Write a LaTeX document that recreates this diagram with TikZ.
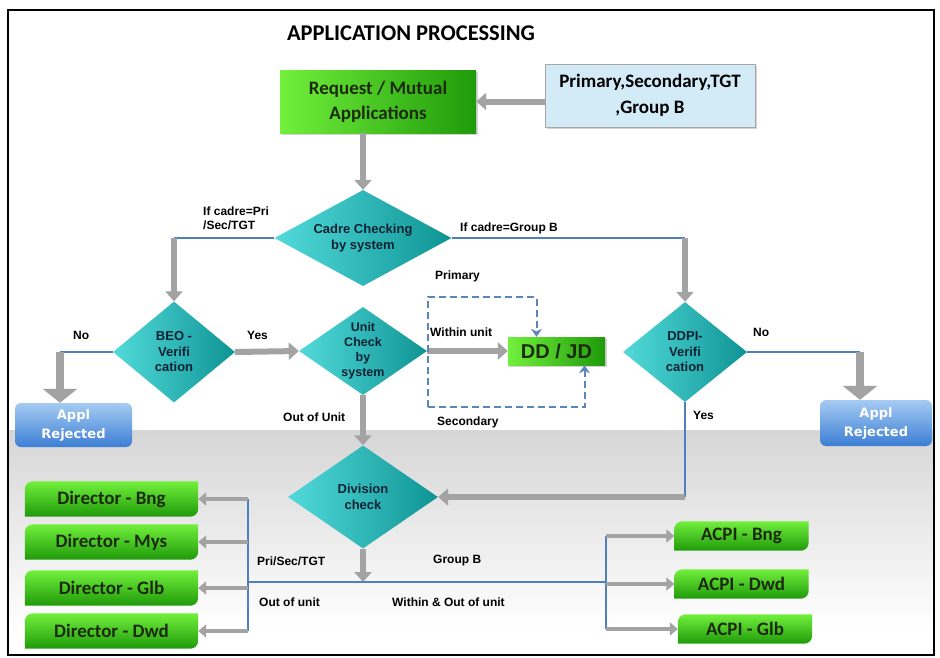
\documentclass[tikz,border=0pt]{standalone}
\usepackage{fontspec}
\setmainfont{Liberation Sans}
\newfontfamily\calfont{Carlito}
\newfontfamily\verfont{DejaVu Sans}
\usetikzlibrary{shapes.geometric,arrows.meta,shadows,backgrounds}
\definecolor{boxgreenA}{HTML}{72F03C}
\definecolor{boxgreenB}{HTML}{1F9A0A}
\definecolor{boxtext}{HTML}{1C2B0E}
\definecolor{diamA}{HTML}{52DADA}
\definecolor{diamB}{HTML}{0F9494}
\definecolor{diamtext}{HTML}{0E2233}
\definecolor{catblue}{HTML}{D2EBF7}
\definecolor{rejA}{HTML}{A5CBF2}
\definecolor{rejB}{HTML}{3C7ED4}
\definecolor{lineblue}{HTML}{4F7FBE}
\definecolor{dashblue}{HTML}{5B86BA}
\definecolor{arrowgray}{HTML}{A3A3A3}
\definecolor{bandgray}{HTML}{D6D6D6}
\tikzset{grayarrow/.style={draw=arrowgray, line width=6pt, -{Triangle[length=10pt,width=17pt]}},
    bigarrow/.style={draw=arrowgray, line width=8pt, -{Triangle[length=14pt,width=34pt]}},
    smallarrow/.style={draw=arrowgray, line width=4pt, -{Triangle[length=8pt,width=13pt]}},
    blueline/.style={draw=lineblue, line width=2pt},
    dashline/.style={draw=dashblue, line width=2pt, dash pattern=on 7pt off 4pt,
        -{Stealth[length=8pt,width=11pt]}},
    decision/.style={diamond, left color=diamA, right color=diamB, inner sep=0pt, align=center,
        text=diamtext, font=\bfseries\fontsize{13}{15.5}\selectfont},
    greenbox/.style={rectangle, left color=boxgreenA, right color=boxgreenB, align=center,
        text=boxtext, drop shadow={opacity=0.35, shadow xshift=2pt, shadow yshift=-2pt}},
    dirbox/.style={rectangle, minimum width=173pt, minimum height=35pt, text=boxtext,
        font=\calfont\bfseries\fontsize{19}{22}\selectfont},
    acpibox/.style={rectangle, minimum width=134pt, minimum height=29pt, text=boxtext,
        font=\calfont\bfseries\fontsize{19}{22}\selectfont},
    rejbox/.style={rectangle, rounded corners=6pt, top color=rejA, bottom color=rejB, align=center,
        text=white, font=\verfont\bfseries\fontsize{13}{19}\selectfont},
    lbl/.style={inner sep=0pt, font=\bfseries\fontsize{12}{14}\selectfont}}

\begin{document}
\begin{tikzpicture}[x=1pt,y=-1pt]
    \useasboundingbox (0,0) rectangle (940,657);
    \node[font=\calfont\bfseries\fontsize{22.5}{24}\selectfont] (title) at (411,33) {APPLICATION PROCESSING};
    % top boxes
    \node[greenbox, minimum width=196pt, minimum height=63pt, font=\calfont\bfseries\fontsize{19}{25}\selectfont]
        (req) at (378,101.5) {Request / Mutual\\Applications};
    \node[rectangle, fill=catblue, draw=gray!70, line width=1pt, minimum width=210pt, minimum height=63pt,
        align=center, drop shadow={opacity=0.35, shadow xshift=2pt, shadow yshift=-2pt},
        font=\calfont\bfseries\fontsize{19}{26}\selectfont] (cat) at (650,95.5) {Primary,Secondary,TGT\\,Group B};
    \draw[grayarrow] (req.east -| cat.west) -- (req.east);
    % decisions
    \node[decision, aspect=1.84, minimum width=177pt, minimum height=96pt] (cadre) at (363,238) {Cadre Checking\\by system};
    \node[decision, aspect=1.2, minimum width=122pt, minimum height=101pt] (beo) at (174,352) {BEO -\\Verifi\\cation};
    \node[decision, aspect=1.45, minimum width=128pt, minimum height=88pt,
        font=\bfseries\fontsize{12.5}{15}\selectfont] (unitchk) at (363,351) {Unit\\Check\\by\\system};
    \node[decision, aspect=1.24, minimum width=124pt, minimum height=100pt] (ddpi) at (685,352) {DDPI-\\Verifi\\cation};
    \node[decision, aspect=1.46, minimum width=150pt, minimum height=103pt] (divchk) at (363,497) {Division\\check};
    \node[greenbox, minimum width=97pt, minimum height=28pt, font=\bfseries\fontsize{20}{22}\selectfont]
        (ddjd) at (556.5,351) {DD / JD};
    \node[rejbox, minimum width=117pt, minimum height=44pt] (rejL) at (73.5,425) {Appl\\Rejected};
    \node[rejbox, minimum width=112pt, minimum height=46pt] (rejR) at (876,423) {Appl\\Rejected};
    % labels
    \node[lbl, anchor=north west, align=left] (ifpri) at (203,207) {If cadre=Pri\\/Sec/TGT};
    \node[lbl, anchor=west] (ifgrpb) at (460,228) {If cadre=Group B};
    \node[lbl, anchor=west] (lblprim) at (435,276) {Primary};
    \node[lbl, anchor=west] (lblwithin) at (430,332) {Within unit};
    \node[lbl, anchor=west] (lblsec) at (437,422) {Secondary};
    \node[lbl, anchor=west] (lblnoL) at (73,335) {No};
    \node[lbl, anchor=west] (lblyesL) at (247,335) {Yes};
    \node[lbl, anchor=west] (lblout) at (283,417) {Out of Unit};
    \node[lbl, anchor=west] (lblnoR) at (753,332) {No};
    \node[lbl, anchor=west] (lblyesR) at (693,415) {Yes};
    \node[lbl, anchor=west] (lblpst) at (257,561) {Pri/Sec/TGT};
    \node[lbl, anchor=west] (lbloutu) at (259,602) {Out of unit};
    \node[lbl, anchor=west] (lblgb) at (433,561) {Group B};
    \node[lbl, anchor=west] (lblwo) at (392,602) {Within \& Out of unit};
    % directors and acpi
    \node[dirbox] (dirbng) at (111.5,499) {Director - Bng};
    \node[dirbox] (dirmys) at (111.5,542) {Director - Mys};
    \node[dirbox] (dirglb) at (111.5,588) {Director - Glb};
    \node[dirbox] (dirdwd) at (111.5,631) {Director - Dwd};
    \node[acpibox] (acpibng) at (741.5,536) {ACPI - Bng};
    \node[acpibox] (acpidwd) at (741.5,584) {ACPI - Dwd};
    \node[acpibox] (acpiglb) at (745,629) {ACPI - Glb};
    \coordinate (nL) at (60,352);
    \coordinate (nR) at (860,352);
    \coordinate (hub) at (363,582);
    \coordinate (busL) at (248,582);
    \coordinate (busR) at (606,582);
    \coordinate (dTL) at (428,297);
    \coordinate (dBL) at (428,407);
    % connectors
    \draw[grayarrow] (cadre.north |- req.south) -- (cadre.north);
    \draw[blueline] (cadre.west) -- (cadre.west -| beo.north);
    \draw[grayarrow] (cadre.west -| beo.north) -- (beo.north);
    \draw[blueline] (cadre.east) -- (cadre.east -| ddpi.north);
    \draw[grayarrow] (cadre.east -| ddpi.north) -- (ddpi.north);
    \draw[blueline] (beo.west) -- (nL);
    \draw[bigarrow] (nL) -- (nL |- rejL.north);
    \draw[grayarrow] (beo.east) -- (unitchk.west);
    \draw[grayarrow] (unitchk.east) -- (ddjd.west);
    \draw[dashline] (dBL) -- (dTL) -| ([xshift=-20pt]ddjd.north);
    \draw[dashline] (dBL) -| ([xshift=28pt]ddjd.south);
    \draw[blueline] (ddpi.east) -- (nR);
    \draw[bigarrow] (nR) -- (nR |- rejR.north);
    \draw[blueline] (ddpi.south) -- (ddpi.south |- divchk.east);
    \draw[grayarrow] (ddpi.south |- divchk.east) -- (divchk.east);
    \draw[grayarrow] (unitchk.south) -- (divchk.north);
    \draw[grayarrow] (divchk.south) -- (hub);
    \draw[blueline] (busL) -- ([xshift=1pt]busR);
    \draw[blueline] (dirbng.east -| busL) -- (dirdwd.east -| busL);
    \draw[blueline] (acpibng.west -| busR) -- (acpiglb.west -| busR);
    \foreach \d in {dirbng,dirmys,dirglb,dirdwd}
        \draw[smallarrow] (\d.east -| busL) -- (\d.east);
    \foreach \a in {acpibng,acpidwd,acpiglb}
        \draw[smallarrow] (\a.west -| busR) -- (\a.west);
    \begin{scope}[on background layer]
        \fill[top color=bandgray, bottom color=white] (9,430) rectangle (933,630);
        \foreach \b in {dirbng,dirmys,dirglb,dirdwd,acpibng,acpidwd,acpiglb}
            \shade[top color=boxgreenA, bottom color=boxgreenB] (\b.south west) [rounded corners=8pt]
                -- (\b.north west) [sharp corners] -- (\b.north east) [rounded corners=8pt]
                -- (\b.south east) [sharp corners] -- cycle;
    \end{scope}
    \draw[line width=2pt] (8,10) rectangle (934,655);
\end{tikzpicture}
\end{document}
